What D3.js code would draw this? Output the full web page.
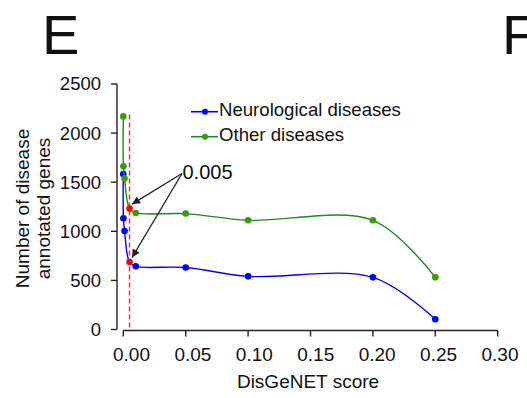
<!DOCTYPE html>
<html><head><meta charset="utf-8">
<script src="https://cdn.jsdelivr.net/npm/d3@7"></script>
<style>
html,body{margin:0;padding:0;background:#fff;}
svg{display:block;}
text{font-family:"Liberation Sans",Arial,sans-serif;fill:#111;}
</style></head>
<body>
<svg id="chart" width="527" height="398"></svg>
<script>
// ---- data ----
const scores = [0, 0.0001, 0.001, 0.005, 0.01, 0.05, 0.1, 0.2, 0.25];
const neuroValues = [1582, 1133, 1003, 687, 643, 632, 541, 531, 105];
const otherValues = [2170, 1663, 1538, 1231, 1187, 1180, 1112, 1112, 531];
const seriesNames = ["Neurological diseases", "Other diseases"];
const xTicks = [0, 0.05, 0.10, 0.15, 0.20, 0.25, 0.30];
const yTicks = [0, 500, 1000, 1500, 2000, 2500];
const cutoff = 0.005;
const cutoffLabel = "0.005";
const panelLabels = ["E", "F"];
const xTitle = "DisGeNET score";
const yTitleLines = ["Number of disease", "annotated genes"];

const svg = d3.select("#chart");
const x = d3.scaleLinear().domain([0, 0.30]).range([123.3, 497.7]);
const xLab = d3.scaleLinear().domain([0, 0.30]).range([131.5, 500]);
const y = d3.scaleLinear().domain([0, 2500]).range([329.5, 84]);

const axisColor = "#222";
const blue = "#0000ff", greenLine = "#1a8c1a", greenDot = "#3a9a0a", red = "#ff0000";

// panel letters
svg.append("text").attr("x", 42).attr("y", 54).attr("font-size", 56).text(panelLabels[0]);
svg.append("text").attr("x", 502).attr("y", 54).attr("font-size", 56).text(panelLabels[1]);

// y axis
const yAxisX = 117;
svg.append("line").attr("x1", yAxisX).attr("x2", yAxisX).attr("y1", y(2500)).attr("y2", y(0))
  .attr("stroke", axisColor).attr("stroke-width", 1.4);
yTicks.forEach(t => {
  svg.append("line").attr("x1", yAxisX - 6).attr("x2", yAxisX).attr("y1", y(t)).attr("y2", y(t))
    .attr("stroke", axisColor).attr("stroke-width", 1.4);
  svg.append("text").attr("x", 101).attr("y", y(t)).attr("dy", "0.35em")
    .attr("text-anchor", "end").attr("font-size", 18.5).text(t);
});

// x axis
const xAxisY = 330.5;
svg.append("line").attr("x1", x(0)).attr("x2", x(0.30)).attr("y1", xAxisY).attr("y2", xAxisY)
  .attr("stroke", axisColor).attr("stroke-width", 1.4);
xTicks.forEach(t => {
  svg.append("line").attr("x1", x(t)).attr("x2", x(t)).attr("y1", xAxisY).attr("y2", xAxisY + 6)
    .attr("stroke", axisColor).attr("stroke-width", 1.4);
  svg.append("text").attr("x", xLab(t)).attr("y", 361).attr("text-anchor", "middle")
    .attr("font-size", 19).text(d3.format(".2f")(t));
});

// axis titles
svg.append("text").attr("x", 308).attr("y", 387.5).attr("text-anchor", "middle")
  .attr("font-size", 19).text(xTitle);
yTitleLines.forEach((l, i) => {
  svg.append("text").attr("transform", `translate(${29 + i * 20.5},208.5) rotate(-90)`)
    .attr("text-anchor", "middle").attr("font-size", 19).text(l);
});

// cutoff dashed line
svg.append("line").attr("x1", x(cutoff)).attr("x2", x(cutoff)).attr("y1", y(2190)).attr("y2", y(0))
  .attr("stroke", "#ff2a2a").attr("stroke-width", 1.5).attr("stroke-dasharray", "5,3");

// series
const line = d3.line().x(d => x(d[0])).y(d => y(d[1])).curve(d3.curveCatmullRom.alpha(0.5));
const series = [
  {vals: neuroValues, line: blue, dot: blue},
  {vals: otherValues, line: greenLine, dot: greenDot}
];
series.forEach(s => {
  const pts = scores.map((sc, i) => [sc, s.vals[i]]);
  svg.append("path").attr("d", line(pts)).attr("fill", "none")
    .attr("stroke", s.line).attr("stroke-width", 1.4);
  svg.selectAll(null).data(pts).enter().append("circle")
    .attr("cx", d => x(d[0])).attr("cy", d => y(d[1])).attr("r", 3.3)
    .attr("fill", d => d[0] === cutoff ? red : s.dot);
});

// legend
const legY = [111.7, 136.7];
series.forEach((s, i) => {
  svg.append("line").attr("x1", 191).attr("x2", 218).attr("y1", legY[i]).attr("y2", legY[i])
    .attr("stroke", s.line).attr("stroke-width", 1.6);
  svg.append("circle").attr("cx", 205).attr("cy", legY[i]).attr("r", 3).attr("fill", s.dot);
  svg.append("text").attr("x", 219).attr("y", legY[i] + 4.5).attr("font-size", 18.6).text(seriesNames[i]);
});

// annotation
svg.append("defs").append("marker").attr("id", "arr").attr("viewBox", "0 0 10 10")
  .attr("refX", 10).attr("refY", 5).attr("markerWidth", 10).attr("markerHeight", 8)
  .attr("markerUnits", "userSpaceOnUse").attr("orient", "auto")
  .append("path").attr("d", "M0,0 L10,5 L0,10 Z").attr("fill", "#222");
svg.append("text").attr("x", 182.5).attr("y", 178.5).attr("font-size", 20).text(cutoffLabel);
const ci = scores.indexOf(cutoff);
[otherValues[ci], neuroValues[ci]].forEach(v => {
  svg.append("line").attr("x1", 182).attr("y1", 173.5)
    .attr("x2", x(cutoff) + 2.5).attr("y2", y(v) - 4.5)
    .attr("stroke", "#222").attr("stroke-width", 1.3).attr("marker-end", "url(#arr)");
});
</script>
</body></html>
